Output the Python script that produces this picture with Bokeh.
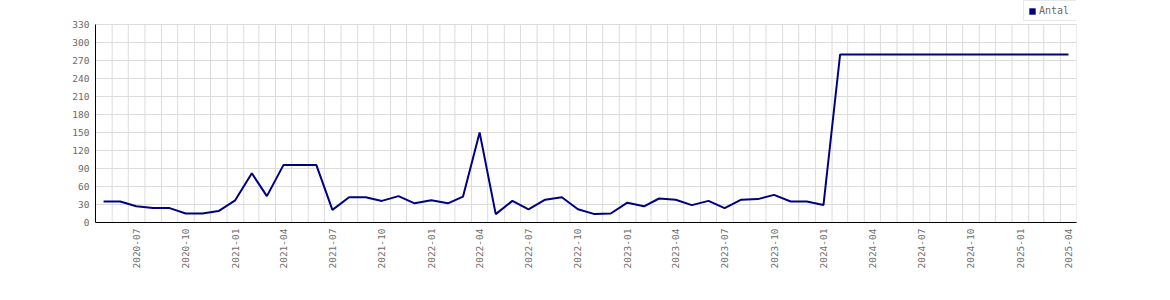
import math
import pandas as pd
from bokeh.plotting import figure
from bokeh.models import (Range1d, FixedTicker, DatetimeTickFormatter, Legend,
                          LegendItem, ColumnDataSource)
from bokeh.embed import file_html
from bokeh.resources import INLINE

# ---- data ----
months = [
    "2020-05", "2020-06", "2020-07", "2020-08", "2020-09", "2020-10", "2020-11", "2020-12",
    "2021-01", "2021-02", "2021-03", "2021-04", "2021-05", "2021-06", "2021-07", "2021-08",
    "2021-09", "2021-10", "2021-11", "2021-12",
    "2022-01", "2022-02", "2022-03", "2022-04", "2022-05", "2022-06", "2022-07", "2022-08",
    "2022-09", "2022-10", "2022-11", "2022-12",
    "2023-01", "2023-02", "2023-03", "2023-04", "2023-05", "2023-06", "2023-07", "2023-08",
    "2023-09", "2023-10", "2023-11", "2023-12",
    "2024-01", "2024-02", "2024-03", "2024-04", "2024-05", "2024-06", "2024-07", "2024-08",
    "2024-09", "2024-10", "2024-11", "2024-12",
    "2025-01", "2025-02", "2025-03", "2025-04",
]
antal = [
    35, 35, 27, 24, 24, 15, 15, 19,
    37, 82, 44, 96, 96, 96, 21, 42,
    42, 36, 44, 32,
    37, 32, 43, 150, 14, 36, 22, 38,
    42, 22, 14, 15,
    33, 27, 40, 38, 29, 36, 24, 38,
    39, 46, 35, 35,
    29, 280, 280, 280, 280, 280, 280, 280,
    280, 280, 280, 280,
    280, 280, 280, 280,
]
series_name = "Antal"
y_ticks = [0, 30, 60, 90, 120, 150, 180, 210, 240, 270, 300, 330]
y_max = 330
x_start = "2020-05-01"
x_end = "2025-05-01"

# ---- derived ----
def ms(ts):
    return pd.Timestamp(ts).value / 1e6

month_starts = pd.date_range(x_start, x_end, freq="MS")
x_mid = [ms(pd.Timestamp(m + "-01") + pd.Timedelta(days=15)) for m in months]
quarter_starts = [d for d in month_starts if d.month in (1, 4, 7, 10)]
label_ticks = [ms(d + pd.Timedelta(days=15)) for d in quarter_starts]

src = ColumnDataSource(data=dict(x=x_mid, y=antal))
grid_src = ColumnDataSource(data=dict(x=[ms(d) for d in month_starts],
                                      y0=[0] * len(month_starts),
                                      y1=[y_max] * len(month_starts)))

# frame spans the full top of the canvas; the value axis stops at y_max,
# leaving room above it for the legend (0.6 px per unit -> 370 at the top)
p = figure(width=1170, height=300, x_axis_type="datetime",
           output_backend="svg", toolbar_location=None,
           x_range=Range1d(ms(x_start), ms(x_end)),
           y_range=Range1d(0, 370),
           min_border_left=95, min_border_right=94,
           min_border_top=0, min_border_bottom=78)
p.outline_line_color = None
p.background_fill_color = "white"
p.border_fill_color = "white"

grid_color = "#dcdcdc"
# monthly vertical grid lines (only up to the top of the value range)
p.xgrid.visible = False
p.segment(x0="x", x1="x", y0="y0", y1="y1", source=grid_src,
          line_color=grid_color, line_width=1, level="underlay")
p.ygrid.grid_line_color = grid_color
p.ygrid.grid_line_width = 1

line_r = p.line("x", "y", source=src, line_color="#000080", line_width=2)

# legend swatch: a zero-size box sitting on the first data point (invisible)
swatch = p.quad(left=x_mid[:1], right=x_mid[:1], top=antal[:1], bottom=antal[:1],
                fill_color="#000080", line_color="#000060", line_alpha=0)

# axes
label_color = "#6a6a6a"
font = "DejaVu Sans Mono"
fsize = "9.5px"

p.xaxis.ticker = FixedTicker(ticks=label_ticks)
fmt = "%Y-%m"
p.xaxis.formatter = DatetimeTickFormatter(days=fmt, months=fmt, years=fmt,
                                          hours=fmt, hourmin=fmt)
p.xaxis.major_label_orientation = math.pi / 2
p.xaxis.axis_line_color = "black"
p.xaxis.axis_line_width = 1
p.xaxis.major_tick_line_color = None
p.xaxis.minor_tick_line_color = None
p.xaxis.major_tick_out = 0
p.xaxis.major_tick_in = 0
p.xaxis.major_label_standoff = 6
p.xaxis.major_label_text_font = font
p.xaxis.major_label_text_font_size = fsize
p.xaxis.major_label_text_color = label_color

p.yaxis.ticker = FixedTicker(ticks=y_ticks)
p.yaxis.bounds = (0, y_max)
p.yaxis.axis_line_color = "black"
p.yaxis.axis_line_width = 1
p.yaxis.major_tick_line_color = None
p.yaxis.minor_tick_line_color = None
p.yaxis.major_tick_out = 0
p.yaxis.major_tick_in = 0
p.yaxis.major_label_standoff = 6
p.yaxis.major_label_text_font = font
p.yaxis.major_label_text_font_size = fsize
p.yaxis.major_label_text_color = label_color

legend = Legend(items=[LegendItem(label=series_name, renderers=[swatch])],
                location=(928, 201),
                glyph_width=8, glyph_height=8, label_height=11, label_width=36,
                label_standoff=3, padding=4, margin=0, spacing=0,
                border_line_color="#d4d4d4", border_line_width=1,
                background_fill_color="white",
                label_text_font=font, label_text_font_size="10px",
                label_text_color=label_color)
p.add_layout(legend, "center")

open("out.html", "w").write(file_html(p, INLINE))
